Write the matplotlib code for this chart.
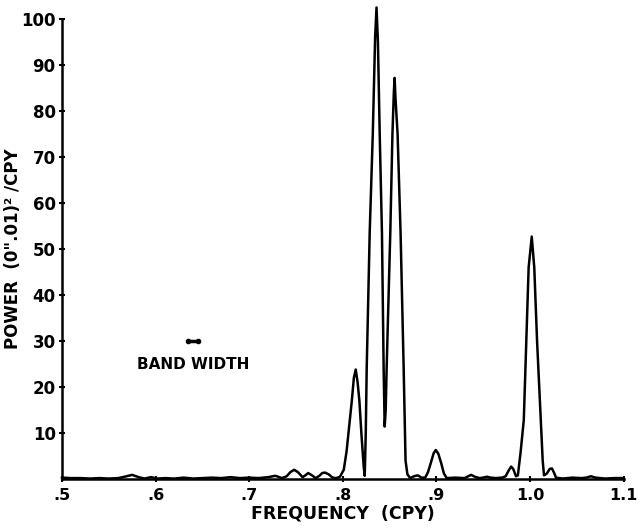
import matplotlib
matplotlib.use("Agg")
import matplotlib.pyplot as plt

# Power spectrum (frequency in CPY, power in (0".01)^2/CPY)
freq = [0.500, 0.510, 0.520, 0.530, 0.540, 0.550, 0.560, 0.567, 0.575, 0.582,
        0.588, 0.595, 0.602, 0.610, 0.620, 0.630, 0.640, 0.650, 0.660, 0.670,
        0.680, 0.690, 0.700, 0.710, 0.720, 0.728, 0.735, 0.740, 0.744, 0.748,
        0.752, 0.757, 0.760, 0.763, 0.767, 0.771, 0.775, 0.778, 0.781, 0.785,
        0.789, 0.793, 0.797, 0.801, 0.804, 0.806, 0.8096, 0.8118, 0.8138, 0.8158,
        0.8177, 0.8198, 0.8223, 0.8234, 0.8245, 0.8255, 0.8287, 0.832, 0.8345, 0.836,
        0.8375, 0.8394, 0.8418, 0.8436, 0.8447, 0.8458, 0.8468, 0.8507, 0.853, 0.8545,
        0.8553, 0.8562, 0.8585, 0.8617, 0.865, 0.867, 0.869, 0.872, 0.876, 0.880,
        0.884, 0.888, 0.891, 0.894, 0.897, 0.8993, 0.902, 0.905, 0.908, 0.911,
        0.920, 0.930, 0.934, 0.937, 0.941, 0.946, 0.950, 0.954, 0.958, 0.963,
        0.970, 0.974, 0.977, 0.9798, 0.982, 0.985, 0.987, 0.990, 0.9933, 0.996,
        0.9985, 1.0018, 1.0045, 1.0075, 1.0114, 1.0135, 1.0149, 1.018, 1.021, 1.0234,
        1.026, 1.0277, 1.035, 1.045, 1.055, 1.060, 1.065, 1.070, 1.080, 1.090,
        1.100]
power = [0.3, 0.2, 0.2, 0.1, 0.2, 0.1, 0.2, 0.5, 0.9, 0.4,
         0.1, 0.4, 0.1, 0.2, 0.1, 0.3, 0.1, 0.2, 0.3, 0.2,
         0.4, 0.2, 0.3, 0.2, 0.4, 0.7, 0.2, 0.6, 1.5, 2.0,
         1.5, 0.4, 0.8, 1.3, 0.8, 0.2, 0.7, 1.3, 1.4, 1.0,
         0.3, 0.2, 0.5, 2.0, 6.0, 10.0, 17.0, 22.0, 23.8, 21.0,
         17.0, 10.0, 2.7, 0.7, 10.0, 24.0, 53.5, 75.0, 96.0, 102.5,
         95.0, 75.0, 53.5, 24.0, 11.4, 15.0, 24.0, 53.5, 75.0, 84.0,
         87.2, 83.0, 75.0, 53.5, 24.0, 4.0, 1.0, 0.2, 0.6, 0.8,
         0.3, 0.3, 1.5, 3.5, 5.6, 6.3, 5.5, 3.5, 1.2, 0.2,
         0.3, 0.2, 0.6, 0.9, 0.5, 0.2, 0.3, 0.5, 0.3, 0.2,
         0.3, 0.6, 1.8, 2.7, 2.2, 0.6, 0.8, 6.0, 12.8, 30.0,
         46.0, 52.7, 46.0, 30.0, 12.8, 4.0, 0.8, 1.2, 2.2, 2.3,
         1.2, 0.3, 0.1, 0.3, 0.2, 0.3, 0.6, 0.3, 0.1, 0.2,
         0.2]

x_ticks = [0.5, 0.6, 0.7, 0.8, 0.9, 1.0, 1.1]
x_ticklabels = [".5", ".6", ".7", ".8", ".9", "1.0", "1.1"]
y_ticks = [10, 20, 30, 40, 50, 60, 70, 80, 90, 100]
y_ticklabels = ["10", "20", "30", "40", "50", "60", "70", "80", "90", "100"]

band_x = [0.635, 0.645]
band_y = [30, 30]
band_label = "BAND WIDTH"

plt.rcParams['font.family'] = ['DejaVu Sans']
plt.rcParams['font.weight'] = 'bold'

fig = plt.figure(figsize=(6.39, 5.30), dpi=100)
ax = fig.add_axes([0.097, 0.0962, 0.879, 0.868])

ax.plot(freq, power, color="black", lw=1.8, clip_on=False, solid_joinstyle="round")
ax.plot(band_x, band_y, color="black", lw=2.5, marker="o", markersize=3, clip_on=False)
ax.text(0.64, 25, band_label, ha="center", va="center", fontsize=11, fontweight="bold")

ax.set_xlim(0.5, 1.1)
ax.set_ylim(0, 100)
ax.set_xticks(x_ticks)
ax.set_xticklabels(x_ticklabels, fontweight="bold", fontsize=11.5)
ax.set_yticks(y_ticks)
ax.set_yticklabels(y_ticklabels, fontweight="bold", fontsize=12)

for s in ["top", "right"]:
    ax.spines[s].set_visible(False)
for s in ["left", "bottom"]:
    ax.spines[s].set_linewidth(1.8)
ax.tick_params(axis="both", direction="inout", length=5, width=1.5)
ax.tick_params(axis="y", pad=2)
ax.tick_params(axis="x", pad=4)

ax.set_xlabel("FREQUENCY  (CPY)", fontsize=12.5, fontweight="bold", labelpad=1)
ax.set_ylabel("POWER  (0\".01)² /CPY", fontsize=12, fontweight="bold")
ax.yaxis.set_label_coords(-0.072, 0.5)

fig.savefig("out.png", dpi=100)
